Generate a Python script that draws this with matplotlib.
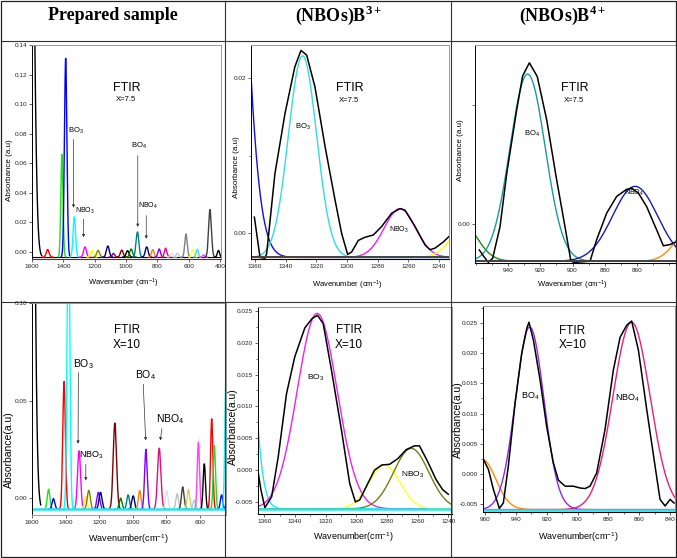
import numpy as np
import matplotlib
matplotlib.use("Agg")
import matplotlib.pyplot as plt
from matplotlib import font_manager
from matplotlib.lines import Line2D
from matplotlib.patches import Rectangle
from matplotlib.ticker import AutoMinorLocator

names = {f.name for f in font_manager.fontManager.ttflist}
SANS = "Liberation Sans Narrow" if "Liberation Sans Narrow" in names else "Liberation Sans"
plt.rcParams["font.family"] = [SANS, "DejaVu Sans"]
plt.rcParams["axes.unicode_minus"] = False
plt.rcParams["mathtext.fontset"] = "custom"
plt.rcParams["mathtext.rm"] = SANS
plt.rcParams["mathtext.it"] = SANS + ":italic"
plt.rcParams["mathtext.bf"] = "Liberation Serif:bold"

W, H = 677, 558

# ---------- data ----------
# survey x=7.5 : peak centres / peak heights / widths / colours
pk1_c = [1615, 1500, 1409, 1385, 1330, 1262, 1218, 1178, 1116, 1080, 1027, 990, 967, 927,
         868, 829, 788, 747, 708, 672, 617, 574, 545, 505, 464, 410]
pk1_h = [0.45, 0.0016, 0.066, 0.131, 0.0237, 0.0034, 0.001, 0.001, 0.004, -0.001, 0.0012, 0.0008,
         0.002, 0.0135, 0.0034, 0.0016, 0.002, 0.0025, -0.001, -0.001, 0.0122, 0.0018, 0.0018,
         -0.002, 0.0287, 0.001]
pk1_s = [22, 9, 7, 8, 8, 9, 9, 9, 9, 8, 9, 9, 9, 9, 9, 8, 8, 8, 8, 8, 8, 7, 7, 7, 9, 7]
pk1_col = ["black", "red", "#22dd22", "blue", "cyan", "magenta", "yellow", "#808000", "#000080",
           "#800080", "#800000", "black", "#008000", "#008080", "#000080", "#ff8000", "#8000ff",
           "#ff0080", "#e0e0e0", "#c8c8c8", "#808080", "#ffff40", "#40e0e0", "#ff40ff", "#404040", "black"]
base1 = -0.0035

# survey x=10
pk4_c = [1625, 1501, 1472, 1409, 1383, 1320, 1280, 1262, 1205, 1192, 1107, 1072, 1028, 998, 959,
         922, 843, 798, 736, 703, 669, 634, 610, 575, 531, 515, 472, 446]
pk4_h = [1.0, 0.0046, -0.0002, 0.0598, 0.15, 0.0243, 0.001, 0.004, 0.003, 0.003, 0.0385, 0.0,
         0.0017, 0.0012, 0.0039, 0.0251, 0.0256, 0.0038, 0.0022, 0.0058, 0.0046, -0.0009, 0.0287,
         0.0176, 0.0407, 0.027, 0.0017, 0.0615]
pk4_s = [22, 8, 8, 8, 8, 9, 8, 9, 9, 9, 10, 8, 8, 8, 8, 8, 10, 8, 8, 8, 8, 8, 7, 7, 7, 7, 7, 7]
pk4_col = ["black", "#22dd22", "blue", "red", "cyan", "magenta", "yellow", "#808000", "#8000ff",
           "#000080", "#800000", "#008000", "#008080", "#000080", "#ff8000", "#8000ff", "#e0107a",
           "#e0e0e0", "#c0c0c0", "#404040", "#d0d060", "#a0d0ff", "#ff40ff", "black", "red",
           "#22dd22", "blue", "cyan"]
base4 = -0.0056

# B3+ region, x=7.5
bx2 = [1360.4, 1356.7, 1353.5, 1352.4, 1347, 1340.4, 1334, 1330, 1326.3, 1320.9, 1314.3, 1307.8,
       1303.5, 1299.6, 1297, 1292.6, 1288.3, 1282.8, 1277.4, 1270.9, 1265.4, 1262.2, 1255.7,
       1249.1, 1245.9, 1242.6, 1237.2, 1233.5]
by2 = [0.0021, -0.0031, -0.0032, -0.0026, 0.0077, 0.0155, 0.0215, 0.0236, 0.0230, 0.0189, 0.0112,
       0.0043, 0.0000, -0.0027, -0.0024, -0.0009, -0.0005, -0.0002, 0.0009, 0.0026, 0.0032, 0.0030,
       0.0009, -0.0015, -0.0021, -0.0019, -0.0011, -0.0004]
comp2_c = [1385, 1329, 1265.5, 1222]
comp2_h = [0.131, 0.0229, 0.0032, 0.001]
comp2_s = [12, 9.2, 10.2, 10]
comp2_col = ["#1010e0", "#30dde0", "#ee22ee", "#ffff00"]
base2 = -0.0031

# B4+ region, x=7.5
bx3 = [958.1, 955.6, 952.5, 949.8, 945.2, 941.0, 934.8, 931.1, 926.9, 922.0, 916.1, 909.9, 904.7,
       901.2, 899.5, 889.1, 885.0, 878.7, 872.5, 866.3, 863.2, 859.0, 853.8, 847.6, 843.4, 839.3, 834.9]
by3 = [-0.0044, -0.0054, -0.0065, -0.0058, -0.0005, 0.0085, 0.0192, 0.0249, 0.0271, 0.0248, 0.0175,
       0.0074, -0.0005, -0.0060, -0.0065, -0.0063, -0.0027, 0.0018, 0.0046, 0.0058, 0.0060, 0.0052,
       0.0029, -0.0010, -0.0037, -0.0035, -0.0030]
comp3_c = [970, 928, 861, 825]
comp3_h = [0.0005, 0.0252, 0.0063, -0.0003]
comp3_s = [10, 11, 14, 10]
comp3_col = ["#1a8a1a", "#1a9a9a", "#1a1ab0", "#ff8c00"]
base3 = -0.0063

# B3+ region, x=10
bx5 = [1363.9, 1362.2, 1359.6, 1355.2, 1350.9, 1345.5, 1340.1, 1333.6, 1328.8, 1325.3, 1321.6, 1316.2,
       1309.7, 1304.3, 1300.6, 1297.8, 1293.5, 1288.1, 1283.3, 1278.3, 1272.9, 1267.5, 1262.1, 1258.8,
       1253.4, 1248.0, 1243.6, 1240.0]
by5 = [-0.0005, -0.0031, -0.0059, -0.0042, 0.0021, 0.0120, 0.0178, 0.0223, 0.0238, 0.0243, 0.0230,
       0.0157, 0.0063, -0.0021, -0.0050, -0.0047, -0.0026, 0.0000, 0.0008, 0.0009, 0.0018, 0.0032,
       0.0038, 0.0038, 0.0013, -0.0015, -0.0031, -0.0038]
comp5_c = [1383, 1325.5, 1281.6, 1264.2]
comp5_h = [0.15, 0.0246, 0.0008, 0.0034]
comp5_s = [8.5, 13, 10.1, 11.5]
comp5_col = ["#20e8f0", "#ee22ee", "#ffff20", "#7a7a1a"]
base5 = -0.0061

# B4+ region, x=10
bx6 = [961.5, 957.8, 954.6, 950.7, 948.1, 944.9, 940.5, 936.2, 933.0, 931.5, 928.6, 924.3, 920.0,
       915.7, 912.4, 908.1, 902.7, 898.4, 895.1, 891.9, 887.6, 882.2, 876.8, 872.4, 868.1, 864.9,
       860.5, 855.1, 849.7, 846.5, 843.2, 840.0, 837.4]
by6 = [0.0026, 0.0007, -0.0026, -0.0058, -0.0049, 0.0012, 0.0117, 0.0200, 0.0241, 0.0252, 0.0222,
       0.0156, 0.0078, 0.0018, -0.0011, -0.0021, -0.0021, -0.0024, -0.0025, -0.0021, 0.0001, 0.0073,
       0.0172, 0.0227, 0.0247, 0.0254, 0.0205, 0.0106, 0.0012, -0.0043, -0.0054, -0.0043, -0.0049]
comp6_c = [962, 931, 865]
comp6_h = [0.0024, 0.0244, 0.0252]
comp6_s = [9, 9.2, 12]
comp6_col = ["#ff8c00", "#8a2be2", "#e8207a"]
base6 = -0.006

# ---------- helpers ----------
fig = plt.figure(figsize=(W / 100, H / 100), dpi=100)
fig.patch.set_facecolor("white")


def add_ax(l, t, r, b):
    return fig.add_axes([l / W, 1 - b / H, (r - l) / W, (b - t) / H])


def ftext(x, y, s, **kw):
    fig.text(x / W, 1 - y / H, s, ha="center", va="center", **kw)


def gauss(x, c, h, s, base):
    return base + (h - base) * np.exp(-(x - c) ** 2 / (2 * s * s))


def survey(ax, cs, hs, ss, cols, base):
    for c, h, s, col in zip(cs, hs, ss, cols):
        x = np.linspace(c - 3.5 * s, c + 3.5 * s, 150)
        ax.plot(x, gauss(x, c, h, s, base), color=col, lw=1.0)


def components(ax, cs, hs, ss, cols, base, xlim):
    x = np.linspace(max(xlim) + 5, min(xlim) - 5, 600)
    for c, h, s, col in zip(cs, hs, ss, cols):
        ax.plot(x, gauss(x, c, h, s, base), color=col, lw=1.0)


def style(ax, xlim, ylim, xt, yt, ylab):
    ax.set_xlim(*xlim)
    ax.set_ylim(*ylim)
    ax.set_xticks(xt)
    ax.set_xticklabels([str(v) for v in xt])
    ax.set_yticks(yt)
    ax.set_yticklabels(ylab)
    ax.tick_params(labelsize=4.6, length=2, width=0.5, pad=1.5, colors="#222222")
    for sp in ["top", "right"]:
        ax.spines[sp].set_color("#999999")
        ax.spines[sp].set_linewidth(0.7)
    ax.spines["left"].set_linewidth(0.7)
    ax.spines["bottom"].set_linewidth(0.8)


arrow = dict(arrowstyle="-|>", color="#333333", lw=0.5, mutation_scale=4)

# ---------- table frame ----------
fig.add_artist(Rectangle((1 / W, 1 - 557 / H), 675 / W, 556 / H, transform=fig.transFigure,
                         fill=False, ec="#222222", lw=0.9))
for yy in [41, 302]:
    fig.add_artist(Line2D([1 / W, 676 / W], [1 - yy / H] * 2, color="#333333", lw=0.8))
for xx in [225, 451]:
    fig.add_artist(Line2D([xx / W] * 2, [1 - 1 / H, 1 - 557 / H], color="#333333", lw=0.8))

ftext(113, 15, "Prepared sample", family="Liberation Serif", weight="bold", size=13)
ftext(339, 15, r"(NBOs)B$^{\mathbf{3+}}$", family="Liberation Serif", weight="bold", size=13)
ftext(563, 15, r"(NBOs)B$^{\mathbf{4+}}$", family="Liberation Serif", weight="bold", size=13)

# ---------- panel 1 : survey x=7.5 ----------
ax1 = add_ax(32, 45, 221, 259)
ax1.axhline(base1, color="black", lw=0.8)
survey(ax1, pk1_c, pk1_h, pk1_s, pk1_col, base1)
style(ax1, (1600, 394), (-0.0048, 0.14), list(range(1600, 399, -200)),
      np.arange(0, 0.141, 0.02), ["%.2f" % v for v in np.arange(0, 0.141, 0.02)])
ax1.spines["bottom"].set_color("#8b1a1a")
ax1.text(995, 0.111, "FTIR", ha="center", va="center", size=9)
ax1.text(999, 0.103, "X=7.5", ha="center", va="center", size=5.5)
ax1.text(1317, 0.082, r"BO$_3$", ha="center", va="center", size=5.5)
ax1.annotate("", xy=(1335, 0.028), xytext=(1335, 0.078), arrowprops=arrow)
ax1.text(1264, 0.028, r"NBO$_3$", ha="center", va="center", size=5)
ax1.annotate("", xy=(1271, 0.008), xytext=(1271, 0.024), arrowprops=arrow)
ax1.text(920, 0.0716, r"BO$_4$", ha="center", va="center", size=5.5)
ax1.annotate("", xy=(925, 0.015), xytext=(925, 0.067), arrowprops=arrow)
ax1.text(863, 0.031, r"NBO$_4$", ha="center", va="center", size=5)
ax1.annotate("", xy=(871, 0.007), xytext=(871, 0.0264), arrowprops=arrow)
ftext(10, 170, "Absorbance (a.u)", rotation=90, size=5.8)
ftext(123, 283, r"Wavenumber (cm$^{-1}$)", size=5.5)

# ---------- panel 2 : B3+ x=7.5 ----------
ax2 = add_ax(251, 45, 449, 259)
xl2 = (1362.6, 1233.5)
components(ax2, comp2_c, comp2_h, comp2_s, comp2_col, base2, xl2)
ax2.plot(bx2, by2, color="black", lw=1.1)
ax2.axhline(base2, color="#444444", lw=1.4)
style(ax2, xl2, (-0.0033, 0.0243), list(range(1360, 1239, -20)), [0, 0.02], ["0.00", "0.02"])
ax2.yaxis.set_minor_locator(AutoMinorLocator(2))
ax2.tick_params(which="minor", length=1.2, width=0.4)
ax2.text(1298, 0.0188, "FTIR", ha="center", va="center", size=9)
ax2.text(1298.7, 0.0172, "X=7.5", ha="center", va="center", size=5.5)
ax2.text(1328.5, 0.0138, r"BO$_3$", ha="center", va="center", size=5.5)
ax2.text(1266.3, 0.0004, r"NBO$_3$", ha="center", va="center", size=5)
ftext(236, 167, "Absorbance (a.u)", rotation=90, size=5.8)
ftext(347, 285, r"Wavenumber (cm$^{-1}$)", size=5.5)

# ---------- panel 3 : B4+ x=7.5 ----------
ax3 = add_ax(475, 45, 676, 263)
xl3 = (960.8, 835.5)
components(ax3, comp3_c, comp3_h, comp3_s, comp3_col, base3, xl3)
ax3.plot(bx3, by3, color="black", lw=1.1)
ax3.axhline(base3, color="#444444", lw=1.4)
style(ax3, xl3, (-0.0066, 0.0301), list(range(940, 859, -20)), [0, 0.02], ["0.00", ""])
ax3.xaxis.set_minor_locator(AutoMinorLocator(2))
ax3.tick_params(which="minor", length=1.2, width=0.4)
ax3.text(898.5, 0.0228, "FTIR", ha="center", va="center", size=9)
ax3.text(899, 0.0208, "X=7.5", ha="center", va="center", size=5.5)
ax3.text(925.5, 0.0152, r"BO$_4$", ha="center", va="center", size=5.5)
ax3.text(862, 0.0052, r"NBO$_4$", ha="center", va="center", size=5)
ftext(460, 150, "Absorbance (a.u)", rotation=90, size=5.8)
ftext(572, 285, r"Wavenumber (cm$^{-1}$)", size=5.5)

# ---------- panel 4 : survey x=10 ----------
ax4 = add_ax(32, 303, 226, 515)
survey(ax4, pk4_c, pk4_h, pk4_s, pk4_col, base4)
ax4.axhline(base4, color="#20e8f0", lw=1.8)
style(ax4, (1594, 446), (-0.0086, 0.10), list(range(1600, 599, -200)), [0, 0.05, 0.10],
      ["0.00", "0.05", "0.10"])
ax4.spines["bottom"].set_color("#f08080")
ax4.text(1034, 0.0863, "FTIR", ha="center", va="center", size=8.5)
ax4.text(1037, 0.0786, "X=10", ha="center", va="center", size=8.5)
ax4.text(1294, 0.0689, r"BO$_3$", ha="center", va="center", size=7.5)
ax4.annotate("", xy=(1326, 0.0265), xytext=(1324, 0.0658), arrowprops=arrow)
ax4.text(1249, 0.0222, r"NBO$_3$", ha="center", va="center", size=6.5)
ax4.annotate("", xy=(1280, 0.0077), xytext=(1280, 0.0188), arrowprops=arrow)
ax4.text(923, 0.0632, r"BO$_4$", ha="center", va="center", size=7.5)
ax4.annotate("", xy=(923, 0.0282), xytext=(939, 0.0598), arrowprops=arrow)
ax4.text(779, 0.0407, r"NBO$_4$", ha="center", va="center", size=7.5)
ax4.annotate("", xy=(839, 0.0282), xytext=(825, 0.0371), arrowprops=arrow)
ftext(9, 450, "Absorbance(a.u)", rotation=90, size=7.5)
ftext(128, 539, r"Wavenumber(cm$^{-1}$)", size=6.5)

# ---------- panel 5 : B3+ x=10 ----------
ax5 = add_ax(258, 307, 452, 514)
xl5 = (1364.1, 1237.6)
components(ax5, comp5_c, comp5_h, comp5_s, comp5_col, base5, xl5)
ax5.plot(bx5, by5, color="black", lw=1.1)
ax5.axhline(base5, color="#20e8f0", lw=1.8)
yt5 = [-0.005, 0.0, 0.005, 0.010, 0.015, 0.020, 0.025]
style(ax5, xl5, (-0.0069, 0.0256), list(range(1360, 1239, -20)), yt5, ["%.3f" % v for v in yt5])
ax5.yaxis.set_minor_locator(AutoMinorLocator(2))
ax5.xaxis.set_minor_locator(AutoMinorLocator(2))
ax5.tick_params(which="minor", length=1.2, width=0.4)
ax5.text(1305, 0.022, "FTIR", ha="center", va="center", size=8.5)
ax5.text(1305, 0.0196, "X=10", ha="center", va="center", size=8.5)
ax5.text(1326.6, 0.0144, r"BO$_3$", ha="center", va="center", size=6)
ax5.text(1263, -0.0008, r"NBO$_3$", ha="center", va="center", size=6)
ftext(233, 427, "Absorbance(a.u)", rotation=90, size=7.5)
ftext(353, 537, r"Wavenumber(cm$^{-1}$)", size=6.5)

# ---------- panel 6 : B4+ x=10 ----------
ax6 = add_ax(483, 306, 675, 512)
xl6 = (961.3, 836.8)
components(ax6, comp6_c, comp6_h, comp6_s, comp6_col, base6, xl6)
ax6.plot(bx6, by6, color="black", lw=1.1)
ax6.axhline(base6, color="#20e8f0", lw=1.8)
style(ax6, xl6, (-0.0064, 0.0279), list(range(960, 839, -20)), yt5, ["%.3f" % v for v in yt5])
ax6.yaxis.set_minor_locator(AutoMinorLocator(2))
ax6.xaxis.set_minor_locator(AutoMinorLocator(2))
ax6.tick_params(which="minor", length=1.2, width=0.4)
ax6.text(903.8, 0.0238, "FTIR", ha="center", va="center", size=8.5)
ax6.text(903, 0.0214, "X=10", ha="center", va="center", size=8.5)
ax6.text(930.8, 0.0128, r"BO$_4$", ha="center", va="center", size=6.5)
ax6.text(867.7, 0.0126, r"NBO$_4$", ha="center", va="center", size=6.5)
ftext(458, 420, "Absorbance(a.u)", rotation=90, size=7.5)
ftext(578, 537, r"Wavenumber(cm$^{-1}$)", size=6.5)

fig.savefig("out.png", dpi=100)
